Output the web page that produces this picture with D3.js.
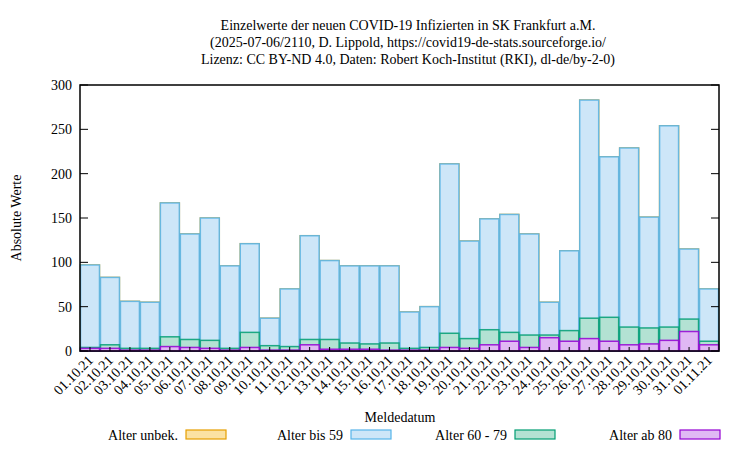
<!DOCTYPE html>
<html><head><meta charset="utf-8">
<script src="https://cdn.jsdelivr.net/npm/d3@7"></script>
<style>body{margin:0;background:#fff}text{font-family:"Liberation Serif","DejaVu Serif",serif;font-size:14px}</style>
</head><body><svg id="c" width="750" height="450"></svg>
<script>
const days = ["01.10.21","02.10.21","03.10.21","04.10.21","05.10.21","06.10.21","07.10.21","08.10.21","09.10.21","10.10.21","11.10.21","12.10.21","13.10.21","14.10.21","15.10.21","16.10.21","17.10.21","18.10.21","19.10.21","20.10.21","21.10.21","22.10.21","23.10.21","24.10.21","25.10.21","26.10.21","27.10.21","28.10.21","29.10.21","30.10.21","31.10.21","01.11.21"];
const ab80   = [3,3,1,1,5,4,3,1,4,1,1,7,2,2,2,1,1,1,4,3,7,11,4,15,11,14,11,7,8,12,22,7];
const alt6079= [1,4,2,2,11,9,9,2,17,5,4,6,11,7,6,8,2,3,16,11,17,10,14,3,12,23,27,20,18,15,14,4];
const bis59  = [93,76,53,52,151,119,138,93,100,31,65,117,89,87,88,87,41,46,191,110,125,133,114,37,90,246,181,202,125,227,79,59];
const unbek  = new Array(32).fill(0);
const yTicks = [0,50,100,150,200,250,300];

const series = [
  {name:"Alter ab 80", vals:ab80, fill:"#e0b8f4", stroke:"#9400d3"},
  {name:"Alter 60 - 79", vals:alt6079, fill:"#b3e2d3", stroke:"#009e73"},
  {name:"Alter bis 59", vals:bis59, fill:"#cde6f8", stroke:"#56b4e9"},
  {name:"Alter unbek.", vals:unbek, fill:"#fbe2a3", stroke:"#e69f00"}
];

const svg = d3.select("#c");
const L=80, R=719, T=85, B=351;
const x = d3.scaleBand().domain(days).range([L,R]).padding(0);
const y = d3.scaleLinear().domain([0,300]).range([B,T]);

// cumulative stacks
const cum = days.map(()=>0);
series.forEach(s=>{
  s.tops = s.vals.map((v,i)=>cum[i]+=v);
});
// draw tallest (outermost) first, each from 0
[...series].reverse().forEach(s=>{
  svg.append("g").selectAll("rect").data(days).join("rect")
    .attr("x",d=>x(d)+0.5).attr("width",x.bandwidth()-1)
    .attr("y",(d,i)=>y(s.tops[i])).attr("height",(d,i)=>B-y(s.tops[i]))
    .attr("fill",s.fill).attr("stroke",s.stroke).attr("stroke-width",1.5)
    .attr("stroke-opacity",s.tops.some(v=>v>0)?0.85:0);
});

// frame
svg.append("rect").attr("x",L).attr("y",T).attr("width",R-L).attr("height",B-T)
  .attr("fill","none").attr("stroke","#000").attr("stroke-width",1.5);

// y ticks
yTicks.forEach(t=>{
  svg.append("line").attr("x1",L).attr("x2",L+8).attr("y1",y(t)).attr("y2",y(t)).attr("stroke","#000");
  svg.append("line").attr("x1",R).attr("x2",R-8).attr("y1",y(t)).attr("y2",y(t)).attr("stroke","#000");
  svg.append("text").attr("x",L-8).attr("y",y(t)+5).attr("text-anchor","end").text(t);
});
// x ticks + labels
days.forEach(d=>{
  const cx = x(d)+x.bandwidth()/2;
  svg.append("line").attr("x1",cx).attr("x2",cx).attr("y1",B).attr("y2",B-4).attr("stroke","#000");
  svg.append("text").attr("transform",`translate(${cx+4},${B+10}) rotate(-45)`)
    .attr("text-anchor","end").text(d);
});

svg.append("text").attr("transform","translate(21,218) rotate(-90)").attr("text-anchor","middle").text("Absolute Werte");
svg.append("text").attr("x",400).attr("y",422).attr("text-anchor","middle").text("Meldedatum");

["Einzelwerte der neuen COVID-19 Infizierten in SK Frankfurt a.M.",
 "(2025-07-06/2110, D. Lippold, https://covid19-de-stats.sourceforge.io/",
 "Lizenz: CC BY-ND 4.0, Daten: Robert Koch-Institut (RKI), dl-de/by-2-0)"]
 .forEach((t,i)=>svg.append("text").attr("x",408).attr("y",30+i*17).attr("text-anchor","middle").text(t));

// legend
const legX = [178,343,507,672];
[series[3],series[2],series[1],series[0]].forEach((s,i)=>{
  svg.append("text").attr("x",legX[i]).attr("y",440).attr("text-anchor","end").text(s.name);
  svg.append("rect").attr("x",legX[i]+8).attr("y",430).attr("width",40).attr("height",9)
    .attr("fill",s.fill).attr("stroke",s.stroke).attr("stroke-width",1.2);
});
</script></body></html>
